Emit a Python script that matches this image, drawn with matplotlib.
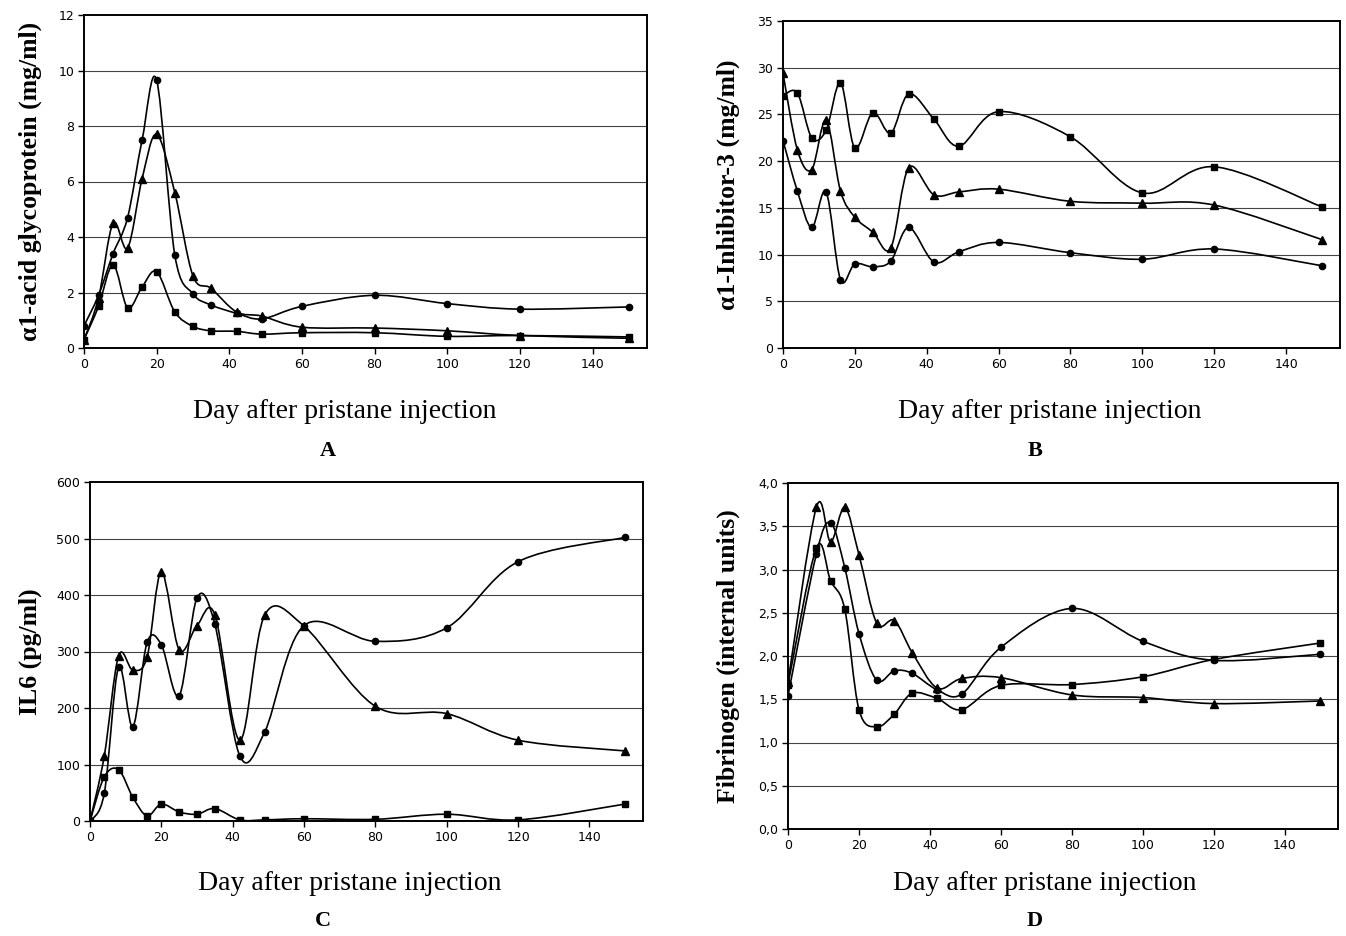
import numpy as np
import matplotlib
matplotlib.use("Agg")
import matplotlib.pyplot as plt
from matplotlib.path import Path
from matplotlib.patches import PathPatch

# days of sampling
days = [0, 4, 8, 12, 16, 20, 25, 30, 35, 42, 49, 60, 80, 100, 120, 150]
days_d = [0, 8, 12, 16, 20, 25, 30, 35, 42, 49, 60, 80, 100, 120, 150]

# A: alpha1-acid glycoprotein (mg/ml)
a_circle = [0.8, 1.9, 3.4, 4.7, 7.5, 9.65, 3.35, 1.95, 1.55, 1.25, 1.05, 1.5, 1.9, 1.6, 1.4, 1.48]
a_triangle = [0.3, 1.8, 4.5, 3.6, 6.1, 7.7, 5.6, 2.6, 2.15, 1.3, 1.15, 0.75, 0.72, 0.62, 0.45, 0.35]
a_square = [0.3, 1.5, 3.0, 1.45, 2.2, 2.75, 1.3, 0.78, 0.62, 0.6, 0.5, 0.55, 0.55, 0.42, 0.45, 0.4]

# B: alpha1-inhibitor-3 (mg/ml)
b_square = [27.0, 27.3, 22.5, 23.3, 28.4, 21.4, 25.2, 23.0, 27.2, 24.5, 21.6, 25.3, 22.6, 16.6, 19.4, 15.1]
b_triangle = [29.4, 21.2, 19.1, 24.4, 16.8, 14.0, 12.4, 10.7, 19.3, 16.4, 16.7, 17.0, 15.7, 15.5, 15.3, 11.6]
b_circle = [22.2, 16.8, 12.9, 16.7, 7.3, 9.0, 8.7, 9.3, 12.9, 9.2, 10.3, 11.3, 10.2, 9.5, 10.6, 8.8]

# C: IL6 (pg/ml)
c_circle = [0, 49, 272, 167, 316, 312, 222, 395, 348, 115, 158, 346, 318, 342, 459, 502]
c_triangle = [0, 115, 292, 267, 290, 441, 303, 346, 365, 143, 365, 345, 203, 190, 143, 124]
c_square = [0, 78, 91, 42, 9, 30, 16, 12, 22, 2, 2, 4, 3, 12, 2, 30]

# D: fibrinogen (internal units)
d_triangle = [1.70, 3.72, 3.32, 3.72, 3.17, 2.38, 2.41, 2.04, 1.63, 1.74, 1.75, 1.55, 1.52, 1.45, 1.48]
d_circle = [1.54, 3.18, 3.54, 3.02, 2.26, 1.72, 1.83, 1.80, 1.61, 1.56, 2.10, 2.55, 2.17, 1.95, 2.02]
d_square = [1.67, 3.25, 2.87, 2.54, 1.38, 1.18, 1.33, 1.57, 1.51, 1.38, 1.66, 1.67, 1.76, 1.96, 2.15]

serif = "Liberation Serif"
W, H = 1346, 936


def smooth_path(x, y):
    # excel-like smoothed line (catmull-rom as cubic beziers)
    pts = np.column_stack([x, y]).astype(float)
    n = len(pts)
    verts = [pts[0]]
    codes = [Path.MOVETO]
    for i in range(n - 1):
        p0 = pts[i - 1] if i > 0 else pts[i]
        p1 = pts[i]
        p2 = pts[i + 1]
        p3 = pts[i + 2] if i + 2 < n else pts[i + 1]
        verts += [p1 + (p2 - p0) / 6, p2 - (p3 - p1) / 6, p2]
        codes += [Path.CURVE4] * 3
    return Path(verts, codes)


def add_series(ax, x, y, marker, ms):
    ax.add_patch(PathPatch(smooth_path(x, y), fill=False, lw=1.2, ec="black", zorder=3))
    ax.plot(x, y, ls="none", marker=marker, ms=ms, color="black", zorder=4)


def make_panel(box, ylim, yticks, ylabels, ylabel, letter, ylab_x, xlab_pos, letter_pos):
    left, right, top, bottom = box
    ax = fig.add_axes([left / W, 1 - bottom / H, (right - left) / W, (bottom - top) / H])
    ax.set_xlim(0, 155)
    ax.set_ylim(*ylim)
    ax.set_xticks([0, 20, 40, 60, 80, 100, 120, 140])
    ax.set_yticks(yticks)
    ax.set_yticklabels(ylabels)
    ax.tick_params(labelsize=9, length=4, width=1, direction="out", pad=3)
    for s in ax.spines.values():
        s.set_linewidth(1.4)
    for t in yticks[1:-1]:
        ax.axhline(t, color="#444444", lw=0.8, zorder=1)
    fig.text(ylab_x / W, 1 - (top + bottom) / 2 / H, ylabel, rotation=90, ha="center",
             va="center", family=serif, fontweight="bold", fontsize=18.5)
    fig.text(xlab_pos[0] / W, 1 - xlab_pos[1] / H, "Day after pristane injection",
             ha="center", va="center", family=serif, fontsize=20)
    fig.text(letter_pos[0] / W, 1 - letter_pos[1] / H, letter, ha="center", va="center",
             family=serif, fontweight="bold", fontsize=16)
    return ax


fig = plt.figure(figsize=(W / 100, H / 100), dpi=100)

ax = make_panel((84, 647, 15, 348), (0, 12), [0, 2, 4, 6, 8, 10, 12],
                ["0", "2", "4", "6", "8", "10", "12"],
                "α1-acid glycoprotein (mg/ml)", "A", 30, (345, 411), (328, 451))
add_series(ax, days, a_circle, "o", 4.5)
add_series(ax, days, a_triangle, "^", 6)
add_series(ax, days, a_square, "s", 4.5)

ax = make_panel((783, 1340, 21, 348), (0, 35), [0, 5, 10, 15, 20, 25, 30, 35],
                ["0", "5", "10", "15", "20", "25", "30", "35"],
                "α1-Inhibitor-3 (mg/ml)", "B", 728, (1050, 411), (1035, 451))
add_series(ax, days, b_square, "s", 4.5)
add_series(ax, days, b_triangle, "^", 6)
add_series(ax, days, b_circle, "o", 4.5)

ax = make_panel((90, 643, 482, 821), (0, 600), [0, 100, 200, 300, 400, 500, 600],
                ["0", "100", "200", "300", "400", "500", "600"],
                "IL6 (pg/ml)", "C", 30, (350, 884), (323, 921))
add_series(ax, days, c_circle, "o", 4.5)
add_series(ax, days, c_triangle, "^", 6)
add_series(ax, days, c_square, "s", 4.5)

dt = [0, 0.5, 1.0, 1.5, 2.0, 2.5, 3.0, 3.5, 4.0]
ax = make_panel((788, 1338, 483, 829), (0, 4), dt,
                [f"{v:.1f}".replace(".", ",") for v in dt],
                "Fibrinogen (internal units)", "D", 728, (1045, 884), (1035, 921))
add_series(ax, days_d, d_triangle, "^", 6)
add_series(ax, days_d, d_circle, "o", 4.5)
add_series(ax, days_d, d_square, "s", 4.5)

fig.savefig("out.png", dpi=100)
